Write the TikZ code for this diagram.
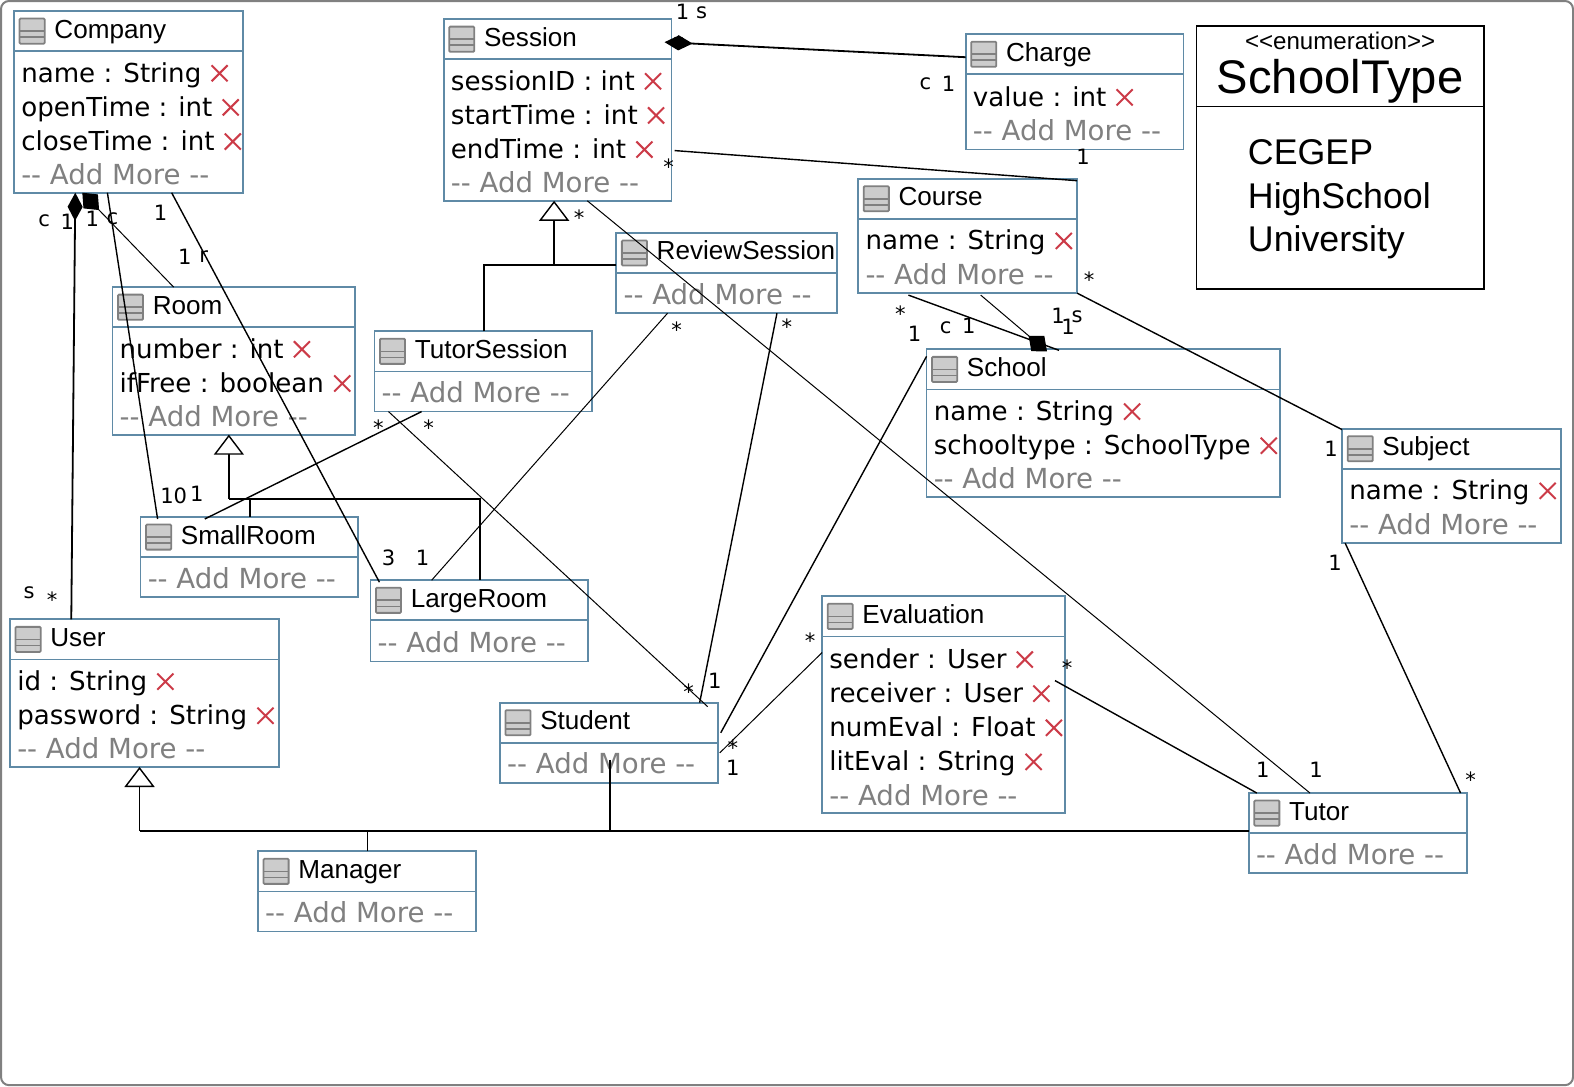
\documentclass[tikz,border=0pt]{standalone}
\usepackage{fontspec}
\setmainfont{Liberation Sans}
\newfontfamily\attrfont{DejaVu Sans}
\usetikzlibrary{shapes.misc, arrows.meta, calc}

\definecolor{umlblue}{HTML}{5F8AA6}
\definecolor{umlgrey}{HTML}{808080}
\definecolor{umlred}{HTML}{CC3B48}

% class box: id, left, top, right, bottom, title
\newcommand{\classbox}[6]{
    \node[classframe, minimum width=#4pt-#2pt, minimum height=#5pt-#3pt] (#1) at (#2,#3) {};
    \draw[umlblue, line width=1.8pt] (#2,#3+40) -- (#4,#3+40);
    \node[iconbox] (#1-icon) at (#2+18,#3+20) {};
    \draw[iconline] ([yshift=0pt]#1-icon.west) -- ([yshift=0pt]#1-icon.east);
    \draw[iconline] ([yshift=-6pt]#1-icon.west) -- ([yshift=-6pt]#1-icon.east);
    \node[classtitle] (#1-title) at (#2+40,#3+27) {#6};
}
% attribute row: id, x, y, text
\newcommand{\attrrow}[4]{
    \node[attrtext] (#1) at (#2,#3) {#4};
    \node[badmark] (#1-x) at ($(#1.base east)+(18,-9)$) {};
}
\newcommand{\addmore}[3]{
    \node[attrtext, font=\attrfont\fontsize{27.5}{30}\selectfont, text=umlgrey] (#1) at (#2,#3) {-- Add More --};
}

\begin{document}
\begin{tikzpicture}[
        x=1pt, y=-1pt,
        classframe/.style={draw=umlblue, line width=1.8pt, fill=white, rectangle, anchor=north west, inner sep=0pt, outer sep=0pt},
        iconbox/.style={draw=umlgrey, line width=1.8pt, fill=gray!40, rounded corners=1pt, minimum size=25pt, inner sep=0pt, outer sep=0pt},
        iconline/.style={draw=umlgrey, line width=1.6pt},
        classtitle/.style={anchor=base west, font=\fontsize{26}{30}\selectfont, inner sep=0pt},
        attrtext/.style={anchor=base west, font=\attrfont\fontsize{26}{30}\selectfont, inner sep=0pt},
        badmark/.style={cross out, draw=umlred, line width=2pt, minimum size=14pt, inner sep=0pt},
        mult/.style={font=\attrfont\fontsize{21}{24}\selectfont, inner sep=0pt},
        assoc/.style={draw, line width=1pt},
        strong/.style={draw, line width=1.4pt},
        owned/.style={draw, line width=1.8pt, -{Diamond[length=28pt, width=15pt]}},
        ownedthin/.style={assoc, -{Diamond[length=24pt, width=20pt]}},
        inherit/.style={draw, line width=1.8pt},
        hollowtip/.style={inherit, -{Triangle[open, fill=white, line width=1.4pt, length=20pt, width=30pt]}}
    ]
    \useasboundingbox (0,0) rectangle (1568,1082);
    \node[draw=umlgrey, line width=2pt, rounded corners=8pt, minimum width=1566pt, minimum height=1080pt, anchor=north west, inner sep=0pt, outer sep=0pt] (frame) at (1,1) {};

    % classes
    \classbox{company}{14}{11}{242}{192}{Company}
    \attrrow{company-a}{21}{82}{name : String}
    \attrrow{company-b}{21}{116}{openTime : int}
    \attrrow{company-c}{21}{150}{closeTime : int}
    \addmore{company-m}{21}{184}

    \classbox{session}{442}{19}{669}{200}{Session}
    \attrrow{session-a}{449}{90}{sessionID : int}
    \attrrow{session-b}{449}{124}{startTime : int}
    \attrrow{session-c}{449}{158}{endTime : int}
    \addmore{session-m}{449}{192}

    \classbox{charge}{962}{34}{1179}{149}{Charge}
    \attrrow{charge-a}{969}{106}{value : int}
    \addmore{charge-m}{969}{140}

    \classbox{course}{855}{178}{1073}{292}{Course}
    \attrrow{course-a}{862}{249}{name : String}
    \addmore{course-m}{862}{283}

    \classbox{review}{614}{232}{834}{312}{ReviewSession}
    \addmore{review-m}{621}{303}

    \classbox{room}{112}{286}{354}{433}{Room}
    \attrrow{room-a}{119}{357}{number : int}
    \attrrow{room-b}{119}{391}{ifFree : boolean}
    \addmore{room-m}{119}{425}

    \classbox{tutorsession}{373}{330}{590}{410}{TutorSession}
    \addmore{tutorsession-m}{380}{401}

    \classbox{school}{923}{348}{1275}{495}{School}
    \attrrow{school-a}{930}{419}{name : String}
    \attrrow{school-b}{930}{453}{schooltype : SchoolType}
    \addmore{school-m}{930}{487}

    \classbox{subject}{1337}{427}{1555}{541}{Subject}
    \attrrow{subject-a}{1344}{498}{name : String}
    \addmore{subject-m}{1344}{532}

    \classbox{smallroom}{140}{515}{357}{595}{SmallRoom}
    \addmore{smallroom-m}{147}{586}

    \classbox{largeroom}{369}{578}{586}{659}{LargeRoom}
    \addmore{largeroom-m}{376}{650}

    \classbox{evaluation}{819}{594}{1061}{810}{Evaluation}
    \attrrow{evaluation-a}{826}{666}{sender : User}
    \attrrow{evaluation-b}{826}{700}{receiver : User}
    \attrrow{evaluation-c}{826}{734}{numEval : Float}
    \attrrow{evaluation-d}{826}{768}{litEval : String}
    \addmore{evaluation-m}{826}{802}

    \classbox{user}{10}{617}{278}{764}{User}
    \attrrow{user-a}{17}{688}{id : String}
    \attrrow{user-b}{17}{722}{password : String}
    \addmore{user-m}{17}{756}

    \classbox{student}{498}{700}{715}{780}{Student}
    \addmore{student-m}{505}{771}

    \classbox{tutor}{1244}{790}{1461}{870}{Tutor}
    \addmore{tutor-m}{1251}{861}

    \classbox{manager}{257}{848}{474}{928}{Manager}
    \addmore{manager-m}{264}{919}

    % enumeration
    \node[draw, line width=1.8pt, minimum width=286pt, minimum height=262pt, anchor=north west, inner sep=0pt, outer sep=0pt] (enum) at (1192,26) {};
    \draw[line width=1.8pt] ([yshift=-80pt]enum.north west) -- ([yshift=-80pt]enum.north east);
    \node[anchor=base, font=\fontsize{24}{28}\selectfont, inner sep=0pt] (enum-stereo) at (1335,49) {<{}<enumeration>{}>};
    \node[anchor=base, font=\fontsize{47}{50}\selectfont, inner sep=0pt] (enum-name) at (1335,93) {SchoolType};
    \node[anchor=base west, font=\fontsize{35.6}{40}\selectfont, inner sep=0pt] (enum-a) at (1243,164) {CEGEP};
    \node[anchor=base west, font=\fontsize{35.6}{40}\selectfont, inner sep=0pt] (enum-b) at (1243,208) {HighSchool};
    \node[anchor=base west, font=\fontsize{35.6}{40}\selectfont, inner sep=0pt] (enum-c) at (1243,251) {University};

    % compositions
    \draw[owned] ([xshift=61pt]user.north west) -- ([xshift=61pt]company.south west);
    \draw[ownedthin] ([xshift=61pt]room.north west) -- ([xshift=68pt]company.south west);
    \draw[owned] ([yshift=-23pt]charge.north west) -- ([xshift=-7pt,yshift=-23pt]session.north east);
    \draw[strong] ([xshift=50pt,yshift=-2pt]course.south west) -- ([xshift=132pt,yshift=-1pt]school.north west);
    \draw[ownedthin] ([xshift=122pt,yshift=-2pt]course.south west) -- ([xshift=120pt,yshift=-2pt]school.north west);

    % associations
    \draw[strong] ([xshift=93pt]company.south west) -- ([xshift=17pt,yshift=-2pt]smallroom.north west);
    \draw[strong] ([xshift=157pt]company.south west) -- ([xshift=9pt,yshift=-2pt]largeroom.north west);
    \draw[strong] ([xshift=3pt,yshift=-131pt]session.north east) -- ([yshift=-2pt]course.north east);
    \draw[assoc] ([xshift=143pt]session.south west) -- ([xshift=61pt]tutor.north west);
    \draw[assoc] ([xshift=51pt]review.south west) -- ([xshift=61pt]largeroom.north west);
    \draw[strong] ([xshift=160pt]review.south west) -- ([xshift=199pt]student.north west);
    \draw[strong] ([xshift=47pt]tutorsession.south west) -- ([xshift=64pt,yshift=-2pt]smallroom.north west);
    \draw[assoc] ([xshift=14pt]tutorsession.south west) -- ([xshift=207pt,yshift=-4pt]student.north west);
    \draw[strong] (course.south east) -- ([yshift=-1pt]subject.north west);
    \draw[strong] ([yshift=-7pt]school.north west) -- ([xshift=3pt,yshift=-30pt]student.north east);
    \draw[assoc] ([yshift=-56pt]evaluation.north west) -- ([xshift=2pt,yshift=-50pt]student.north east);
    \draw[strong] ([xshift=-10pt,yshift=-84pt]evaluation.north east) -- ([xshift=8pt]tutor.north west);
    \draw[strong] ([xshift=3pt]subject.south west) -- ([xshift=211pt]tutor.north west);

    % generalisations
    \coordinate (sessionjoin) at (552,264);
    \draw[hollowtip] (sessionjoin) -- ([xshift=110pt]session.south west);
    \draw[inherit] ([xshift=109pt]tutorsession.north west) |- (sessionjoin);
    \draw[inherit] ([yshift=-32pt]review.north west) -- (sessionjoin);

    \coordinate (roomjoin) at (228,497);
    \draw[hollowtip] (roomjoin) -- ([xshift=116pt]room.south west);
    \draw[inherit] ([xshift=109pt]smallroom.north west) |- (roomjoin);
    \draw[inherit] ([xshift=109pt]largeroom.north west) |- (roomjoin);

    \coordinate (userjoin) at (139,828);
    \draw[hollowtip] (userjoin) -- ([xshift=129pt]user.south west);
    \draw[inherit] ([xshift=109pt]manager.north west) |- (userjoin);
    \draw[inherit] ([xshift=110pt,yshift=-57pt]student.north west) |- (userjoin);
    \draw[inherit] ([yshift=-38pt]tutor.north west) -- (userjoin);

    % multiplicities and role letters
    \foreach \i/\x/\y/\t in {a/44/220/c, b/67/221/1, c/92/218/1, d/112/218/c, e/160/212/1, f/184/256/1, g/203/256/r,
        h/680/12/1, i/699/13/s, j/676/44/*, k/922/83/c, l/945/83/1, m/1079/156/1, n/666/166/*, o/577/217/*, p/1085/279/*,
        q/897/312/*, r/911/333/1, s/942/326/c, t/965/325/1, u/1054/315/1, v/1064/326/1, w/1073/316/s,
        aa/674/328/*, ab/784/325/*, ac/377/426/*, ad/427/426/*, ae/1326/447/1, af/173/494/10, ag/196/492/1,
        ah/387/556/3, ai/421/556/1, aj/1330/561/1, ak/29/590/s, al/52/597/*, am/807/638/*, an/1063/665/*,
        ao/686/689/*, ap/712/678/1, aq/730/745/*, ar/730/765/1, as/1258/767/1, at/1311/767/1, au/1465/777/*}
        \node[mult] (mult-\i) at (\x,\y) {\t};
\end{tikzpicture}
\end{document}
